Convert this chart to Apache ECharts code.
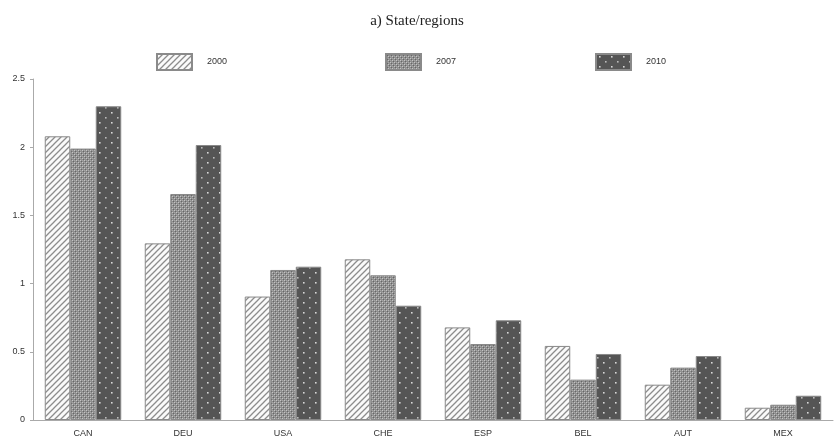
<!DOCTYPE html>
<html><head><meta charset="utf-8">
<script src="https://cdn.jsdelivr.net/npm/echarts@6/dist/echarts.min.js"></script>
<style>html,body{margin:0;padding:0;background:#fff}#c{width:834px;height:438px}</style>
</head><body><div id="c"></div>
<script>
const categories = ['CAN','DEU','USA','CHE','ESP','BEL','AUT','MEX'];
const seriesNames = ['2000','2007','2010'];
const v2000 = [2.08, 1.295, 0.905, 1.178, 0.679, 0.543, 0.259, 0.090];
const v2007 = [1.99, 1.657, 1.100, 1.061, 0.557, 0.296, 0.384, 0.112];
const v2010 = [2.30, 2.016, 1.124, 0.838, 0.731, 0.484, 0.469, 0.178];
const yTicks = [0, 0.5, 1, 1.5, 2, 2.5];

function mk(w,h,draw){const c=document.createElement('canvas');c.width=w;c.height=h;const g=c.getContext('2d');draw(g);return c;}
const pStripe = mk(6,6,g=>{g.fillStyle='#fafafa';g.fillRect(0,0,6,6);g.strokeStyle='#8c8c8c';g.lineWidth=1.3;
  g.beginPath();g.moveTo(-1,7);g.lineTo(7,-1);g.moveTo(-4,4);g.lineTo(4,-4);g.moveTo(2,10);g.lineTo(10,2);g.stroke();});
const pCross = mk(4,4,g=>{g.fillStyle='#8e8e8e';g.fillRect(0,0,4,4);g.fillStyle='#c4c4c4';g.fillRect(0,0,1,1);g.fillRect(2,2,1,1);
  g.fillStyle='#666';g.fillRect(1,1,1,1);g.fillRect(3,3,1,1);g.fillStyle='#a8a8a8';g.fillRect(2,0,1,1);g.fillRect(0,2,1,1);});
const pDots = mk(12,10,g=>{g.fillStyle='#555';g.fillRect(0,0,12,10);g.fillStyle='#d8d8d8';g.fillRect(3,2,1.6,1.6);g.fillStyle='#bbb';g.fillRect(9,7,1.6,1.6);});
const fills = [pStripe,pCross,pDots];
const vals = [v2000,v2007,v2010];

const chart = echarts.init(document.getElementById('c'),null,{renderer:'canvas'});
const legendLefts = [156,385,595];
chart.setOption({
  animation:false,
  title:{text:'a) State/regions',left:'center',top:9,textStyle:{fontFamily:'Liberation Serif',fontWeight:'normal',fontSize:15,color:'#222'}},
  legend: seriesNames.map((n,i)=>({data:[n],left:legendLefts[i],top:53,padding:0,itemWidth:35,itemHeight:16,icon:'rect',
    textStyle:{fontSize:9,color:'#333',fontFamily:'Liberation Sans',padding:[0,0,0,10]},selectedMode:false})),
  grid:{left:33,right:1,top:79,bottom:18,containLabel:false},
  xAxis:{type:'category',data:categories,axisLine:{lineStyle:{color:'#aaa'}},axisTick:{show:false},
    axisLabel:{fontSize:9,color:'#333',fontFamily:'Liberation Sans',margin:9}},
  yAxis:{type:'value',min:0,max:2.5,interval:0.5,splitLine:{show:false},
    axisLine:{show:true,lineStyle:{color:'#aaa'}},axisTick:{show:true,length:3,lineStyle:{color:'#aaa'}},
    axisLabel:{fontSize:9,color:'#333',fontFamily:'Liberation Sans',margin:8,formatter:v=>yTicks.includes(v)?String(v):''}},
  series: seriesNames.map((n,i)=>({name:n,type:'bar',data:vals[i],barWidth:25.5,barGap:'0%',
    itemStyle:{color:{image:fills[i],repeat:'repeat'},borderColor:'#8a8a8a',borderWidth:1}}))
});
</script></body></html>
